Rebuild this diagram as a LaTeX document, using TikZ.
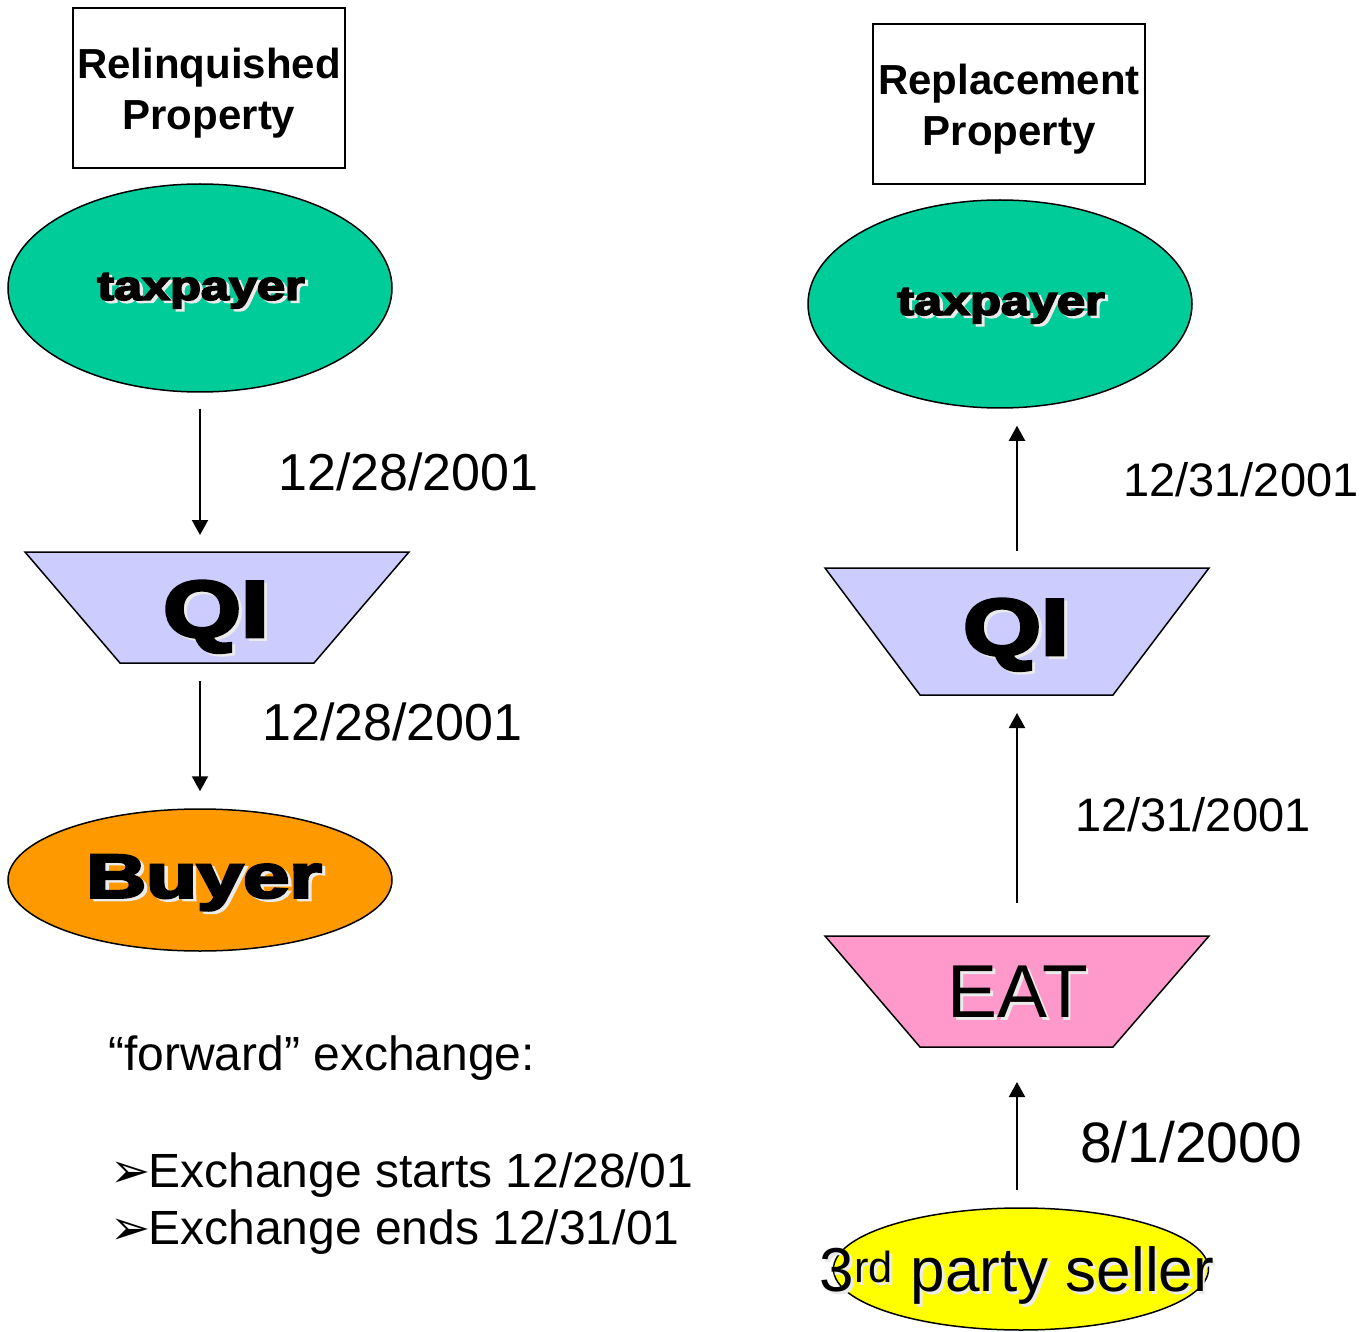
\documentclass[tikz,border=0pt]{standalone}
\usepackage{fontspec}
\usepackage{graphicx}
\setmainfont{Liberation Sans}
\newfontfamily\heavyfont{Liberation Sans}[BoldFeatures={FakeBold=4}]
\newfontfamily\symfont{DejaVu Sans}
\usetikzlibrary{arrows.meta,shapes.geometric}

\definecolor{tealgreen}{HTML}{00CC99}
\definecolor{lavender}{HTML}{CCCCFF}
\definecolor{orangefill}{HTML}{FF9900}
\definecolor{pinkfill}{HTML}{FF99CC}
\definecolor{yellowfill}{HTML}{FFFF00}

% text with a light drop shadow behind it
\newcommand\liftshadow[1]{\makebox[0pt][l]{\hspace{2.5pt}\raisebox{-2.5pt}{\color{white!92!black}#1}}#1}
% heavy display text: size, horizontal stretch, text
\newcommand\heavytext[3]{\scalebox{#2}[1]{\fontsize{#1}{#1}\heavyfont\bfseries\liftshadow{#3}}}
% bullet arrowhead
\newcommand\arrowbullet{{\symfont\fontsize{48}{48}\selectfont ➢}\kern-2pt}

\tikzset{
  propbox/.style={draw, line width=1.5pt, minimum width=272pt, minimum height=160pt,
    align=center, inner sep=0pt, font=\fontsize{42}{51}\selectfont\bfseries},
  party/.style={ellipse, draw, line width=1.5pt, inner sep=0pt},
  trap/.style={draw, line width=1.5pt},
  flow/.style={line width=2pt, -{Triangle[width=16pt,length=15pt]}},
  datelbl/.style={anchor=west, inner sep=0pt},
  notetext/.style={anchor=base west, inner sep=0pt, font=\fontsize{48}{57}\selectfont}
}

\begin{document}
\begin{tikzpicture}[x=1pt,y=-1pt]
\useasboundingbox (0,0) rectangle (1369,1332);

% ---------- relinquished side ----------
\node[propbox] (relq) at (209,88) {\rule{0pt}{40.6pt}Relinquished\\Property};

\node[party, fill=tealgreen, minimum width=384pt, minimum height=208pt] (tax1) at (200,288) {};
\node[inner sep=0pt] (tax1txt) at (201,292) {\heavytext{41}{1.23}{taxpayer}};

\draw[trap, fill=lavender] (25,552) coordinate (qi1tl) -- (409,552) -- (314,663)
  -- (120,663) coordinate (qi1bl) -- cycle;
\node[inner sep=0pt] (qi1) at (216,618) {\heavytext{80}{1.25}{QI}};

\node[party, fill=orangefill, minimum width=384pt, minimum height=142pt] (buyer) at (200,880) {};
\node[inner sep=0pt] (buyertxt) at (204,884) {\heavytext{62}{1.34}{Buyer}};

\draw[flow, shorten <=16pt, shorten >=17pt] (tax1.south) -- (tax1.south |- qi1tl);
\draw[flow, shorten <=18pt, shorten >=17pt] (tax1.south |- qi1bl) -- (buyer.north);

\node[datelbl, font=\fontsize{52}{52}\selectfont] (d1) at (278,472) {12/28/2001};
\node[datelbl, font=\fontsize{52}{52}\selectfont] (d2) at (262,722) {12/28/2001};

\node[notetext] (fwd) at (108,1070) {“forward” exchange:};
\node[notetext] (start) at (110,1187) {\arrowbullet Exchange starts 12/28/01};
\node[notetext] (end) at (110,1244) {\arrowbullet Exchange ends 12/31/01};

% ---------- replacement side ----------
\node[propbox] (repl) at (1009,104) {\rule{0pt}{40.6pt}Replacement\\Property};

\node[party, fill=tealgreen, minimum width=384pt, minimum height=208pt] (tax2) at (1000,304) {};
\node[inner sep=0pt] (tax2txt) at (1001,307) {\heavytext{41}{1.23}{taxpayer}};

\draw[trap, fill=lavender] (825,568) -- (1017,568) coordinate (qi2top) -- (1209,568)
  -- (1113,695) -- (1017,695) coordinate (qi2bot) -- (920,695) -- cycle;
\node[inner sep=0pt] (qi2) at (1016,636) {\heavytext{80}{1.25}{QI}};

\draw[trap, fill=pinkfill] (825,936) -- (1017,936) coordinate (eattop) -- (1209,936)
  -- (1113,1047) -- (1017,1047) coordinate (eatbot) -- (920,1047) -- cycle;
\node[inner sep=0pt] (eat) at (1018,993) {\fontsize{75}{75}\selectfont\liftshadow{EAT}};

\node[party, fill=yellowfill, minimum width=375pt, minimum height=122pt] (seller) at (1021,1269) {};
\node[inner sep=0pt] (sellertxt) at (1017,1277)
  {\fontsize{62}{62}\selectfont\liftshadow{3\textsuperscript{rd} party seller}};

\draw[flow, shorten <=17pt, shorten >=17pt] (qi2top) -- (qi2top |- tax2.south);
\draw[flow, shorten <=33pt, shorten >=18pt] (eattop) -- (qi2bot);
\draw[flow, shorten <=17pt, shorten >=35pt] (eattop |- seller.north) -- (eatbot);

\node[datelbl, font=\fontsize{47}{47}\selectfont] (d3) at (1123,480) {12/31/2001};
\node[datelbl, font=\fontsize{47}{47}\selectfont] (d4) at (1075,815) {12/31/2001};
\node[datelbl, font=\fontsize{57}{57}\selectfont] (d5) at (1080,1142) {8/1/2000};
\end{tikzpicture}
\end{document}
